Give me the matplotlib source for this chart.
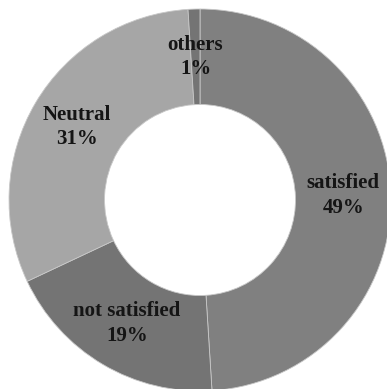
import numpy as np
import matplotlib
matplotlib.use("Agg")
import matplotlib.pyplot as plt

categories = ["satisfied", "not satisfied", "Neutral", "others"]
values = [49, 19, 31, 1]
colors = ["#808080", "#747474", "#a6a6a6", "#747474"]

fig = plt.figure(figsize=(3.87, 3.89), dpi=100)
ax = fig.add_axes([9/387, -2/389, 382/387, 382/389])
wedges, _ = ax.pie(values, colors=colors, startangle=90, counterclock=False,
                   radius=1.0,
                   wedgeprops=dict(width=0.5, edgecolor="#c8c8c8", linewidth=0.6))
label_r = 0.75
for w, name, v in zip(wedges, categories, values):
    ang = np.deg2rad((w.theta1 + w.theta2) / 2)
    ax.text(label_r * np.cos(ang), label_r * np.sin(ang), f"{name}\n{v}%",
            ha="center", va="center", fontsize=15, fontweight="bold",
            family="Liberation Serif", color="#151515", linespacing=1.3)
ax.set_xlim(-1, 1)
ax.set_ylim(-1, 1)
ax.set_aspect("equal")
ax.axis("off")
fig.savefig("out.png", dpi=100)
